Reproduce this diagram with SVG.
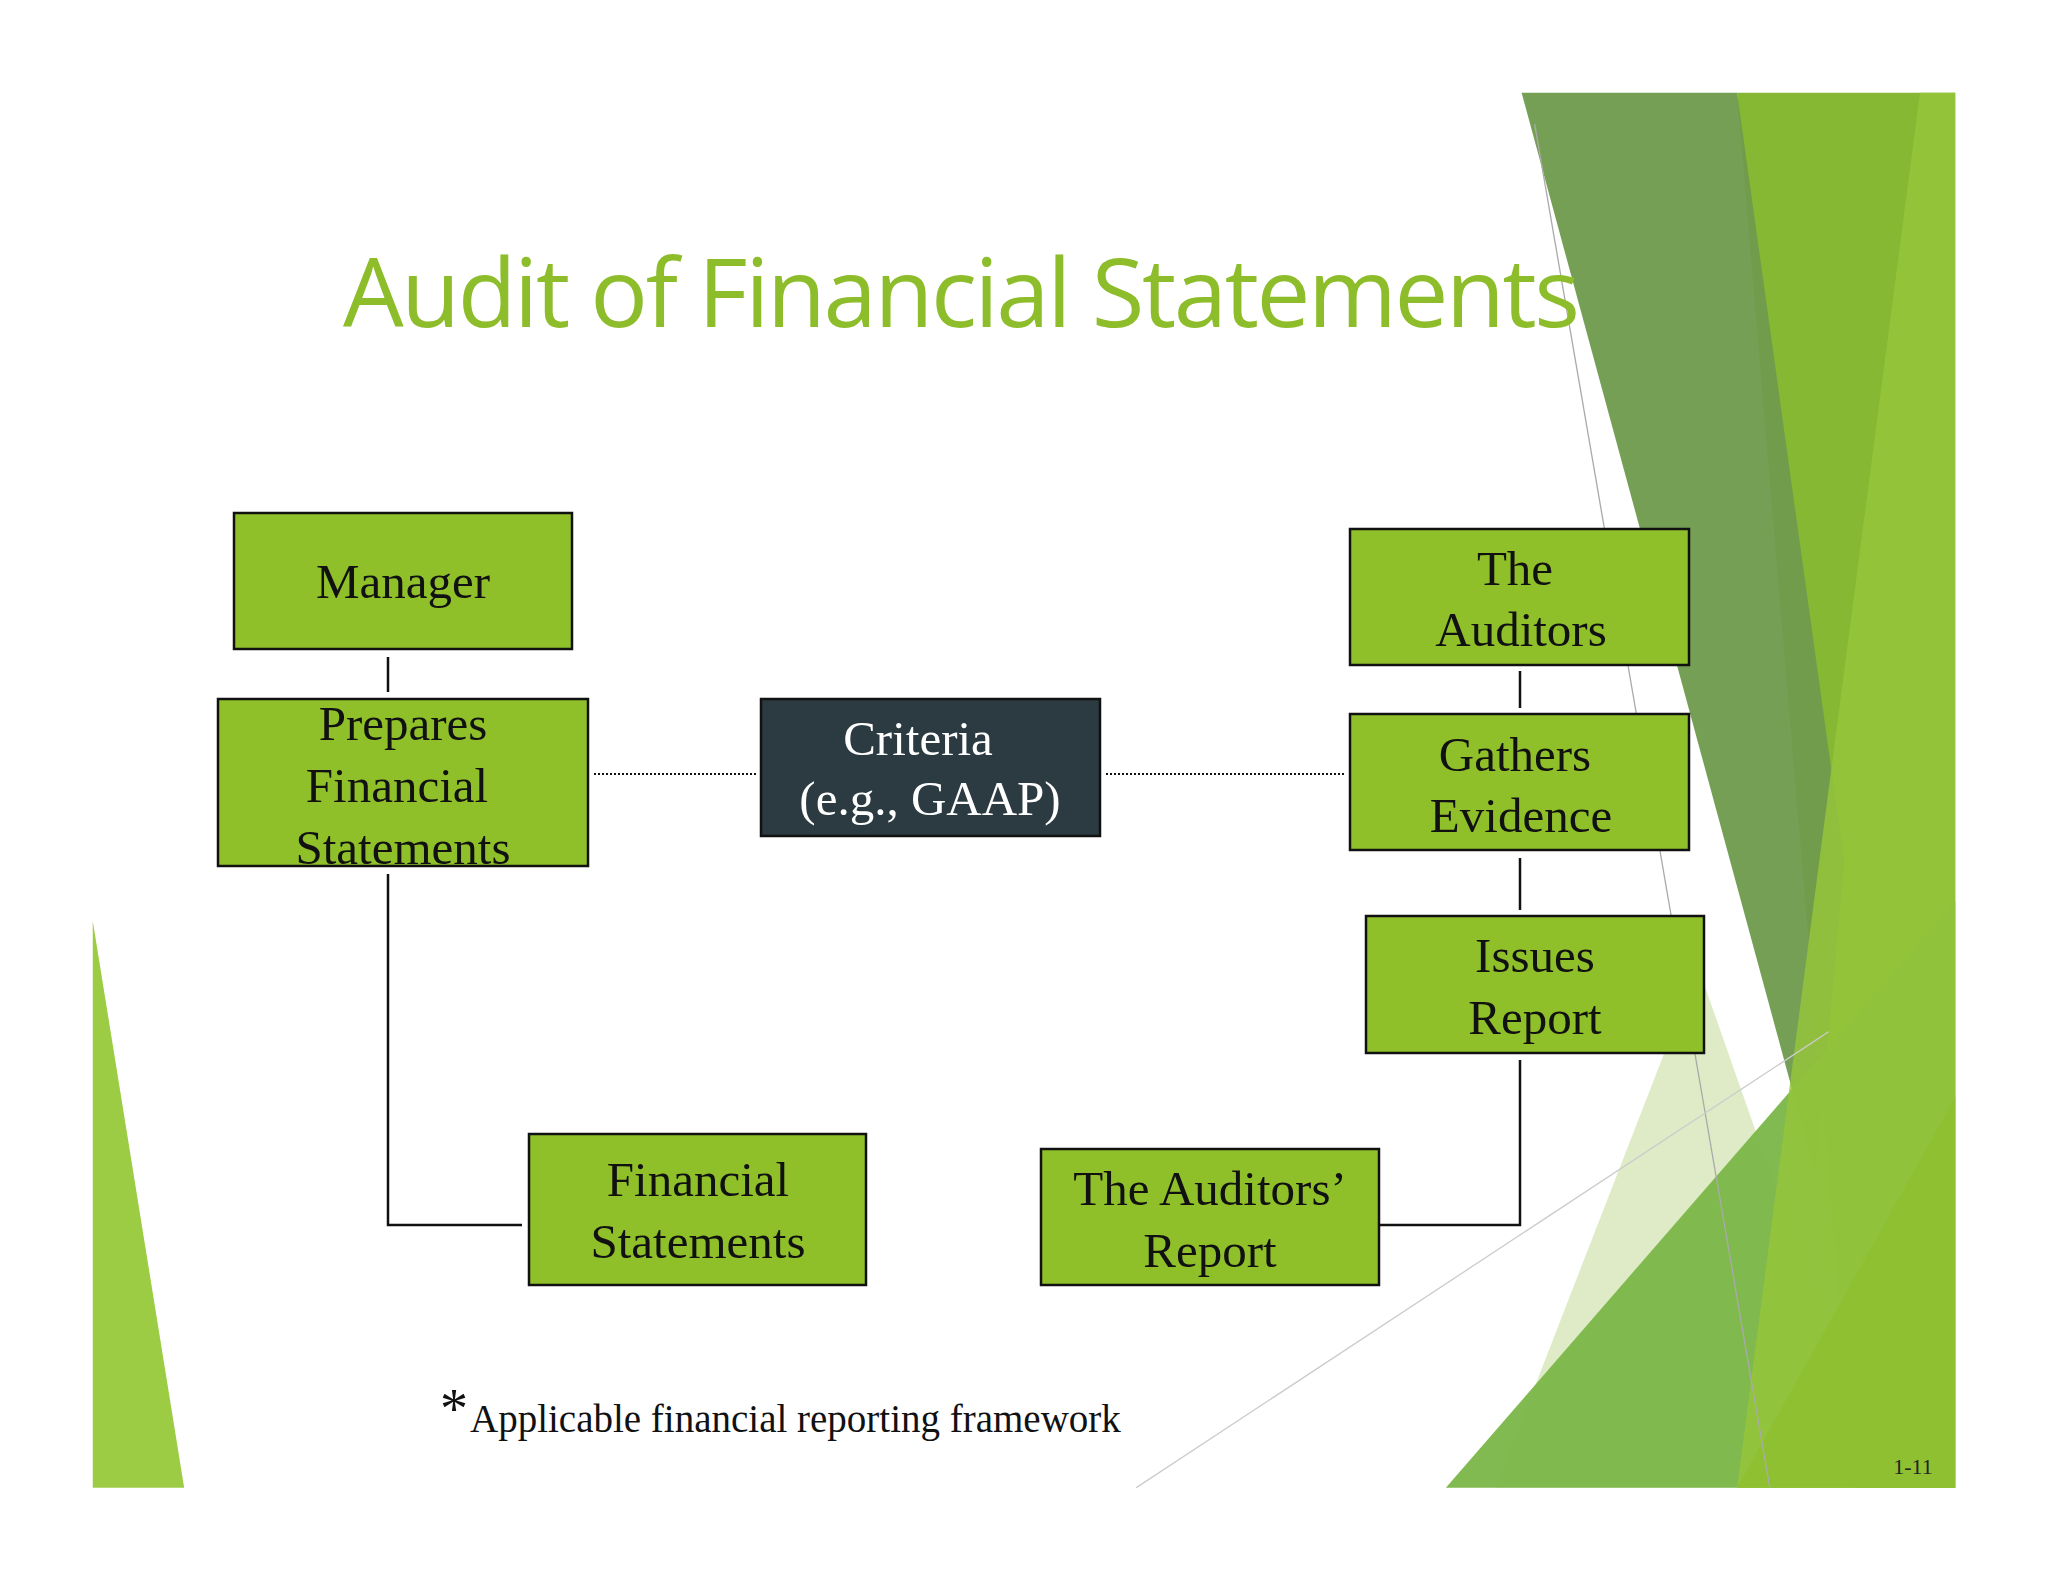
<svg xmlns="http://www.w3.org/2000/svg" width="2048" height="1582" viewBox="0 0 2048 1582">
<style>
.box{fill:#8fc02a;stroke:#111;stroke-width:2.5}
.dark{fill:#2b3b41;stroke:#111;stroke-width:2.5}
.t{font-family:"Liberation Serif",serif;font-size:49px;fill:#111;text-anchor:middle}
.w{fill:#fff}
.ln{stroke:#111;stroke-width:2.5;fill:none}
.dot{stroke:#111;stroke-width:2;stroke-dasharray:2 2;fill:none}
</style>
<rect width="2048" height="1582" fill="#fff"/>
<g id="background" transform="scale(1.3061)">
<polygon points="1330,71 1497,71 1497,1139 1420,1139" fill="#86b833"/>
<polygon points="1165,71 1330,71 1412,660 1390,900" fill="#6f9a4d" opacity="0.95"/>
<polygon points="1145,1139 1300,740 1440,1139" fill="#c8dea0" opacity="0.6"/>
<polygon points="1107,1139 1497,690 1497,1139" fill="#7ab648" opacity="0.95"/>
<polygon points="1330,1139 1470,71 1497,71 1497,1139" fill="#95c43b" opacity="0.85"/>
<polygon points="1330,1139 1497,840 1497,1139" fill="#8fc031"/>
<polygon points="71,705 71,1139 141,1139" fill="#9ccc44"/>
<line x1="1175" y1="95" x2="1355" y2="1139" stroke="#aaa" stroke-width="1"/>
<line x1="870" y1="1139" x2="1400" y2="790" stroke="#ccc" stroke-width="1"/>
</g>
<text x="343" y="327" font-family="'Open Sans',sans-serif" font-size="96" fill="#8dbd2a" textLength="1237">Audit of Financial Statements</text>
<g id="connectors">
<path class="ln" d="M388,657V692M388,874V1225H522"/>
<path class="dot" d="M594,774H757M1106,774H1345"/>
<path class="ln" d="M1520,671V708M1520,858V910M1520,1060V1225H1380"/>
</g>
<g id="manager"><rect class="box" x="234" y="513" width="338" height="136"/><text class="t" x="403" y="598">Manager</text></g>
<g id="prepares"><rect class="box" x="218" y="699" width="370" height="167"/><text class="t" x="403" y="740">Prepares</text><text class="t" x="397" y="802">Financial</text><text class="t" x="403" y="864">Statements</text></g>
<g id="criteria"><rect class="dark" x="761" y="699" width="339" height="137"/><text class="t w" x="918" y="755">Criteria</text><text class="t w" x="930" y="815">(e.g., GAAP)</text></g>
<g id="auditors"><rect class="box" x="1350" y="529" width="339" height="136"/><text class="t" x="1515" y="585">The</text><text class="t" x="1521" y="646">Auditors</text></g>
<g id="gathers"><rect class="box" x="1350" y="714" width="339" height="136"/><text class="t" x="1515" y="771">Gathers</text><text class="t" x="1521" y="832">Evidence</text></g>
<g id="issues"><rect class="box" x="1366" y="916" width="338" height="137"/><text class="t" x="1535" y="972">Issues</text><text class="t" x="1535" y="1034">Report</text></g>
<g id="fs"><rect class="box" x="529" y="1134" width="337" height="151"/><text class="t" x="698" y="1196">Financial</text><text class="t" x="698" y="1258">Statements</text></g>
<g id="ar"><rect class="box" x="1041" y="1149" width="338" height="136"/><text class="t" x="1210" y="1205">The Auditors’</text><text class="t" x="1210" y="1267">Report</text></g>
<text x="440" y="1428" font-family="'Liberation Serif',serif" font-size="56" fill="#111">*</text>
<text x="470" y="1432" font-family="'Liberation Serif',serif" font-size="39" fill="#111">Applicable financial reporting framework</text>
<text x="1913" y="1474" font-family="'Liberation Serif',serif" font-size="22" fill="#222" text-anchor="middle">1-11</text>
</svg>
